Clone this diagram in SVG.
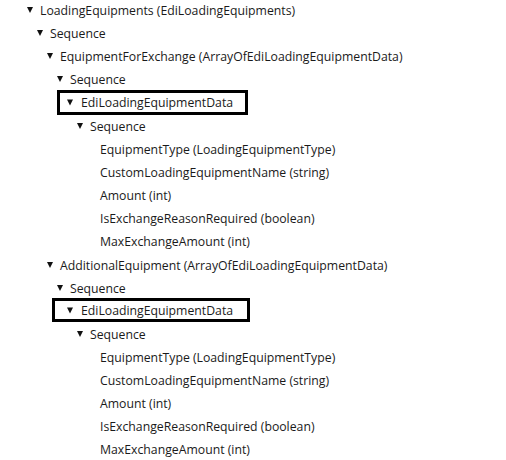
<svg xmlns="http://www.w3.org/2000/svg" width="506" height="460" viewBox="0 0 506 460">
<style>
text{font-family:"Open Sans","Noto Sans","DejaVu Sans",sans-serif;font-size:12.25px;fill:#1a1a1a}
.tri{fill:#111}
.box{fill:none;stroke:#000;stroke-width:3}
</style>
<defs><path id="t" d="M-3,-3 L3,-3 L0,3 Z" class="tri"/></defs>
<rect width="506" height="460" fill="#fff"/>
<g id="tree">
<g id="n1"><use href="#t" x="30" y="10"/><text x="40" y="14.5">LoadingEquipments (EdiLoadingEquipments)</text></g>
<g id="n2"><use href="#t" x="40" y="33"/><text x="50" y="37.5">Sequence</text></g>
<g id="n3"><use href="#t" x="50" y="56"/><text x="60" y="60.5">EquipmentForExchange (ArrayOfEdiLoadingEquipmentData)</text></g>
<g id="n4"><use href="#t" x="60" y="79"/><text x="70" y="83.5">Sequence</text></g>
<g id="n5"><rect class="box" x="58.5" y="91.5" width="188" height="22"/><use href="#t" x="70" y="102.5"/><text x="81" y="107">EdiLoadingEquipmentData</text></g>
<g id="n6"><use href="#t" x="80" y="126"/><text x="90" y="130.5">Sequence</text></g>
<g id="n7"><text x="100" y="153.5">EquipmentType (LoadingEquipmentType)</text></g>
<g id="n8"><text x="100" y="176.5">CustomLoadingEquipmentName (string)</text></g>
<g id="n9"><text x="100" y="199.5">Amount (int)</text></g>
<g id="n10"><text x="100" y="222.5">IsExchangeReasonRequired (boolean)</text></g>
<g id="n11"><text x="100" y="245.5">MaxExchangeAmount (int)</text></g>
<g id="n12"><use href="#t" x="50" y="265"/><text x="60" y="269.5">AdditionalEquipment (ArrayOfEdiLoadingEquipmentData)</text></g>
<g id="n13"><use href="#t" x="60" y="288"/><text x="70" y="292.5">Sequence</text></g>
<g id="n14"><rect class="box" x="53.5" y="299.5" width="195" height="21"/><use href="#t" x="70" y="310.5"/><text x="81" y="315">EdiLoadingEquipmentData</text></g>
<g id="n15"><use href="#t" x="80" y="334"/><text x="90" y="338.5">Sequence</text></g>
<g id="n16"><text x="100" y="361.5">EquipmentType (LoadingEquipmentType)</text></g>
<g id="n17"><text x="100" y="384.5">CustomLoadingEquipmentName (string)</text></g>
<g id="n18"><text x="100" y="407.5">Amount (int)</text></g>
<g id="n19"><text x="100" y="430.5">IsExchangeReasonRequired (boolean)</text></g>
<g id="n20"><text x="100" y="453.5">MaxExchangeAmount (int)</text></g>
</g>
<g id="connectors"/>
</svg>
